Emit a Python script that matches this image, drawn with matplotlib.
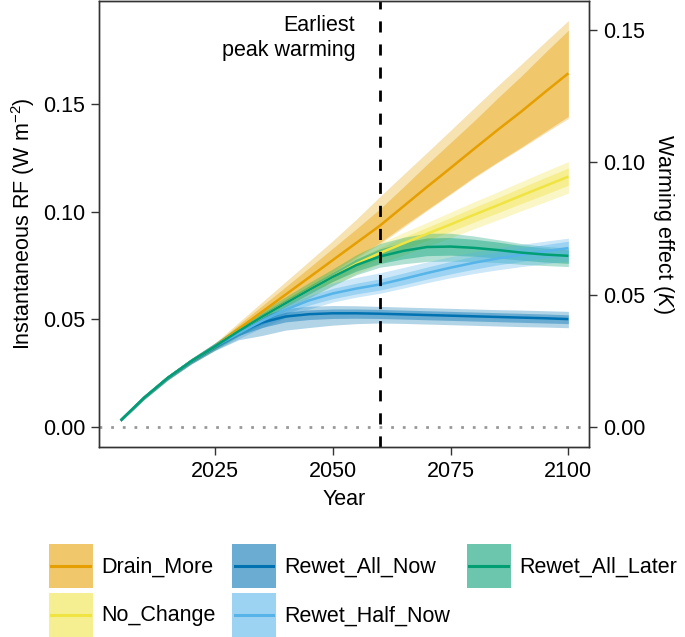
import matplotlib
matplotlib.use("Agg")
import matplotlib.pyplot as plt
from matplotlib.patches import Rectangle
from matplotlib.lines import Line2D
from matplotlib.legend_handler import HandlerBase

plt.rcParams['font.family'] = ['Liberation Sans', 'DejaVu Sans']
plt.rcParams['mathtext.fontset'] = 'custom'
plt.rcParams['mathtext.rm'] = 'Liberation Sans'
plt.rcParams['mathtext.it'] = 'Liberation Sans:italic'

# ---- data (RF, W m-2) ----
years = [2005, 2010, 2015, 2020, 2025, 2030, 2035, 2040, 2045, 2050,
         2055, 2060, 2065, 2070, 2075, 2080, 2085, 2090, 2095, 2100]

drain_mid  = [0.0030, 0.0136, 0.0228, 0.0306, 0.0374, 0.0455, 0.0535, 0.0615, 0.0695, 0.0775,
              0.0855, 0.0935, 0.1025, 0.1115, 0.1203, 0.1292, 0.1380, 0.1465, 0.1555, 0.1643]
drain_lo50 = [0.0027, 0.0131, 0.0221, 0.0297, 0.0362, 0.0435, 0.0507, 0.0579, 0.0650, 0.0720,
              0.0790, 0.0857, 0.0935, 0.1010, 0.1085, 0.1162, 0.1232, 0.1300, 0.1372, 0.1443]
drain_hi50 = [0.0033, 0.0141, 0.0235, 0.0315, 0.0386, 0.0475, 0.0563, 0.0651, 0.0740, 0.0830,
              0.0920, 0.1013, 0.1115, 0.1220, 0.1321, 0.1422, 0.1528, 0.1630, 0.1738, 0.1843]
drain_lo95 = [0.0026, 0.0130, 0.0220, 0.0296, 0.0360, 0.0430, 0.0502, 0.0575, 0.0645, 0.0715,
              0.0783, 0.0850, 0.0927, 0.1005, 0.1081, 0.1157, 0.1228, 0.1295, 0.1365, 0.1433]
drain_hi95 = [0.0034, 0.0143, 0.0238, 0.0318, 0.0390, 0.0485, 0.0580, 0.0675, 0.0770, 0.0865,
              0.0965, 0.1070, 0.1173, 0.1275, 0.1378, 0.1482, 0.1585, 0.1685, 0.1787, 0.1888]

nc_mid  = [0.0030, 0.0136, 0.0228, 0.0306, 0.0374, 0.0445, 0.0512, 0.0575, 0.0637, 0.0697,
           0.0758, 0.0808, 0.0853, 0.0897, 0.0941, 0.0986, 0.1030, 0.1075, 0.1119, 0.1163]
nc_lo50 = [0.0027, 0.0132, 0.0223, 0.0299, 0.0365, 0.0433, 0.0497, 0.0558, 0.0618, 0.0676,
           0.0734, 0.0782, 0.0825, 0.0867, 0.0909, 0.0952, 0.0995, 0.1038, 0.1080, 0.1123]
nc_hi50 = [0.0033, 0.0140, 0.0233, 0.0313, 0.0383, 0.0457, 0.0527, 0.0592, 0.0656, 0.0718,
           0.0782, 0.0834, 0.0881, 0.0927, 0.0973, 0.1020, 0.1065, 0.1112, 0.1158, 0.1203]
nc_lo95 = [0.0025, 0.0128, 0.0218, 0.0293, 0.0357, 0.0422, 0.0484, 0.0542, 0.0600, 0.0656,
           0.0712, 0.0758, 0.0799, 0.0839, 0.0879, 0.0921, 0.0962, 0.1004, 0.1045, 0.1086]
nc_hi95 = [0.0035, 0.0143, 0.0237, 0.0318, 0.0390, 0.0466, 0.0538, 0.0605, 0.0671, 0.0734,
           0.0800, 0.0854, 0.0903, 0.0950, 0.0998, 0.1046, 0.1092, 0.1140, 0.1187, 0.1233]

ran_mid  = [0.0030, 0.0136, 0.0228, 0.0306, 0.0374, 0.0440, 0.0485, 0.0513, 0.0524, 0.0528,
            0.0528, 0.0526, 0.0523, 0.0520, 0.0517, 0.0514, 0.0511, 0.0508, 0.0505, 0.0501]
ran_lo50 = [0.0027, 0.0132, 0.0223, 0.0299, 0.0365, 0.0425, 0.0462, 0.0488, 0.0499, 0.0504,
            0.0505, 0.0504, 0.0501, 0.0498, 0.0495, 0.0492, 0.0489, 0.0486, 0.0483, 0.0480]
ran_hi50 = [0.0033, 0.0140, 0.0233, 0.0313, 0.0383, 0.0453, 0.0502, 0.0533, 0.0544, 0.0548,
            0.0548, 0.0546, 0.0543, 0.0540, 0.0537, 0.0534, 0.0531, 0.0528, 0.0525, 0.0521]
ran_lo95 = [0.0025, 0.0128, 0.0218, 0.0293, 0.0355, 0.0405, 0.0425, 0.0450, 0.0462, 0.0473,
            0.0480, 0.0483, 0.0481, 0.0478, 0.0475, 0.0472, 0.0469, 0.0466, 0.0464, 0.0461]
ran_hi95 = [0.0035, 0.0143, 0.0237, 0.0318, 0.0390, 0.0465, 0.0517, 0.0550, 0.0561, 0.0564,
            0.0563, 0.0560, 0.0557, 0.0554, 0.0551, 0.0548, 0.0545, 0.0543, 0.0540, 0.0537]

rhn_mid  = [0.0030, 0.0136, 0.0228, 0.0306, 0.0374, 0.0435, 0.0493, 0.0545, 0.0588, 0.0620,
            0.0643, 0.0662, 0.0688, 0.0715, 0.0740, 0.0763, 0.0783, 0.0800, 0.0816, 0.0831]
rhn_lo50 = [0.0027, 0.0132, 0.0223, 0.0299, 0.0365, 0.0422, 0.0476, 0.0525, 0.0566, 0.0596,
            0.0618, 0.0636, 0.0661, 0.0687, 0.0711, 0.0733, 0.0753, 0.0769, 0.0785, 0.0799]
rhn_hi50 = [0.0033, 0.0140, 0.0233, 0.0313, 0.0383, 0.0448, 0.0510, 0.0565, 0.0610, 0.0644,
            0.0668, 0.0688, 0.0715, 0.0743, 0.0769, 0.0793, 0.0813, 0.0831, 0.0847, 0.0863]
rhn_lo95 = [0.0025, 0.0128, 0.0218, 0.0293, 0.0357, 0.0410, 0.0461, 0.0508, 0.0548, 0.0580,
            0.0603, 0.0621, 0.0645, 0.0670, 0.0693, 0.0713, 0.0730, 0.0745, 0.0758, 0.0771]
rhn_hi95 = [0.0035, 0.0143, 0.0237, 0.0318, 0.0390, 0.0460, 0.0526, 0.0585, 0.0633, 0.0669,
            0.0695, 0.0716, 0.0741, 0.0767, 0.0791, 0.0813, 0.0832, 0.0848, 0.0863, 0.0877]

ral_mid  = [0.0030, 0.0136, 0.0228, 0.0306, 0.0374, 0.0445, 0.0512, 0.0575, 0.0637, 0.0697,
            0.0752, 0.0792, 0.0818, 0.0836, 0.0838, 0.0832, 0.0822, 0.0810, 0.0801, 0.0795]
ral_lo50 = [0.0027, 0.0132, 0.0223, 0.0299, 0.0365, 0.0433, 0.0497, 0.0558, 0.0618, 0.0676,
            0.0724, 0.0759, 0.0781, 0.0796, 0.0798, 0.0793, 0.0785, 0.0775, 0.0766, 0.0760]
ral_hi50 = [0.0033, 0.0140, 0.0233, 0.0313, 0.0383, 0.0457, 0.0527, 0.0592, 0.0656, 0.0718,
            0.0780, 0.0827, 0.0858, 0.0878, 0.0880, 0.0872, 0.0859, 0.0843, 0.0831, 0.0823]
ral_lo95 = [0.0025, 0.0128, 0.0218, 0.0293, 0.0357, 0.0422, 0.0484, 0.0542, 0.0600, 0.0656,
            0.0707, 0.0742, 0.0758, 0.0769, 0.0770, 0.0768, 0.0764, 0.0756, 0.0750, 0.0745]
ral_hi95 = [0.0035, 0.0143, 0.0237, 0.0318, 0.0390, 0.0466, 0.0538, 0.0605, 0.0671, 0.0734,
            0.0800, 0.0852, 0.0881, 0.0900, 0.0900, 0.0887, 0.0870, 0.0852, 0.0839, 0.0831]

names = ["Drain_More", "No_Change", "Rewet_All_Now", "Rewet_Half_Now", "Rewet_All_Later"]
colors = ["#E69F00", "#F0E442", "#0072B2", "#56B4E9", "#009E73"]
mids = [drain_mid, nc_mid, ran_mid, rhn_mid, ral_mid]
lo50s = [drain_lo50, nc_lo50, ran_lo50, rhn_lo50, ral_lo50]
hi50s = [drain_hi50, nc_hi50, ran_hi50, rhn_hi50, ral_hi50]
lo95s = [drain_lo95, nc_lo95, ran_lo95, rhn_lo95, ral_lo95]
hi95s = [drain_hi95, nc_hi95, ran_hi95, rhn_hi95, ral_hi95]

peak_year = 2060
rf_to_k = 0.8134   # right axis scale (K per W m-2)
fs = 15.5


# legend key: filled square with the line through its middle
class BandKey(HandlerBase):
    def create_artists(self, legend, orig_handle, xdescent, ydescent,
                       width, height, fontsize, trans):
        c = orig_handle.get_color()
        r = Rectangle((-xdescent, -ydescent), width, height, facecolor=c,
                      alpha=0.58, edgecolor='none', transform=trans)
        ym = -ydescent + height / 2
        l = Line2D([-xdescent + 2, -xdescent + width - 2], [ym, ym], color=c,
                   lw=2.2, transform=trans)
        return [r, l]


# ---- figure ----
fig = plt.figure(figsize=(6.85, 6.37), dpi=100)
ax = fig.add_axes([0.1445, 0.2983, 0.7155, 0.7002])

# ribbons first, then the central lines
band_order = [0, 1, 4, 3, 2]
for i in band_order:
    ax.fill_between(years, lo95s[i], hi95s[i], color=colors[i], alpha=0.3, lw=0)
    ax.fill_between(years, lo50s[i], hi50s[i], color=colors[i], alpha=0.4, lw=0)

lines = {}
for i in [0, 1, 2, 3, 4]:
    lines[i], = ax.plot(years, mids[i], color=colors[i], lw=1.8, solid_capstyle='butt')

ax.axhline(0, color='#999999', lw=2, linestyle=(0, (1, 3.2)), zorder=0)
ax.axvline(peak_year, color='black', lw=2, linestyle=(0, (4, 4.3)))
ax.text(2054.8, 0.1915, "Earliest\npeak warming", ha='right', va='top',
        fontsize=fs, linespacing=1.25)

ax.set_xlim(2000.4, 2104.4)
ax.set_ylim(-0.0093, 0.1979)
ax.set_xticks([2025, 2050, 2075, 2100])
ax.set_yticks([0.00, 0.05, 0.10, 0.15])
ax.set_yticklabels(["0.00", "0.05", "0.10", "0.15"])
ax.set_xlabel("Year", fontsize=fs, labelpad=5)
ax.set_ylabel(r"Instantaneous RF (W m$^{-2}$)", fontsize=fs, labelpad=4)

ax2 = ax.twinx()
ax2.set_ylim(-0.0093 * rf_to_k, 0.1979 * rf_to_k)
ax2.set_yticks([0.00, 0.05, 0.10, 0.15])
ax2.set_yticklabels(["0.00", "0.05", "0.10", "0.15"])
ax2.set_ylabel(r"Warming effect ($\mathit{K}$)", fontsize=fs, rotation=270, labelpad=22)

for a in (ax, ax2):
    for s in a.spines.values():
        s.set_color('#333333')
        s.set_linewidth(1.0)
    a.tick_params(direction='out', length=6, width=1, color='#333333',
                  labelsize=fs, pad=4)

# ---- legend ----
fig.legend([lines[i] for i in range(5)], names, ncol=3, loc='upper left',
           handler_map={Line2D: BandKey()},
           bbox_to_anchor=(0.071, 0.146), frameon=False, fontsize=fs,
           handlelength=2.05, handleheight=2.8, handletextpad=0.4,
           labelspacing=0.2, columnspacing=0.75, borderpad=0, borderaxespad=0)

fig.savefig("out.png", dpi=100)
